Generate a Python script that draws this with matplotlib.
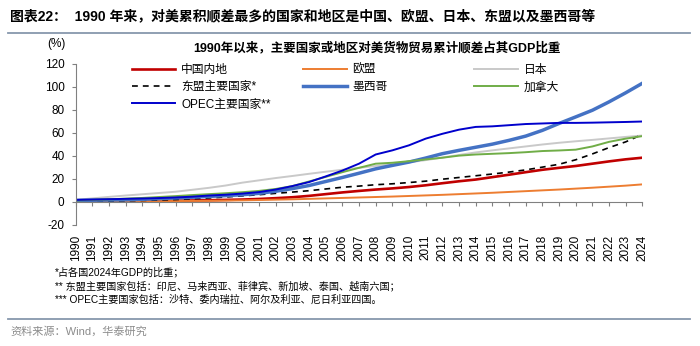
import numpy as np
import matplotlib
matplotlib.use("Agg")
import matplotlib.pyplot as plt

plt.rcParams['font.family'] = ['Liberation Sans', 'Noto Sans CJK SC']
plt.rcParams['axes.unicode_minus'] = False

years = list(range(1990, 2025))

china = [0, 0.1, 0.2, 0.4, 0.5, 0.6, 0.8, 1.0, 1.2, 1.5, 1.8, 2.3, 3.0, 3.8, 5.0, 6.5, 8.0,
         9.3, 10.5, 11.5, 12.7, 14.2, 16.0, 17.7, 19.2, 21.3, 23.4, 25.6, 27.7, 29.4, 31.0,
         33.0, 35.0, 36.8, 38.2]
eu = [0, 0.05, 0.1, 0.2, 0.3, 0.4, 0.5, 0.6, 0.7, 0.9, 1.1, 1.4, 1.7, 2.0, 2.4, 2.8, 3.2,
      3.6, 4.0, 4.4, 4.9, 5.4, 5.9, 6.5, 7.1, 7.7, 8.4, 9.1, 9.8, 10.5, 11.3, 12.1, 13.0,
      13.9, 15.0]
japan = [1.5, 2.8, 4.1, 5.3, 6.4, 7.5, 8.6, 10.3, 12.0, 14.0, 16.5, 18.5, 20.5, 22.3, 24.2,
         26.0, 27.7, 29.4, 31.0, 32.5, 34.2, 36.1, 38.3, 40.6, 42.8, 44.6, 46.3, 48.0, 49.7,
         51.2, 52.5, 53.7, 55.0, 56.3, 57.5]
asean = [0, 0.2, 0.4, 0.7, 1.0, 1.4, 1.8, 2.4, 3.2, 4.0, 5.0, 6.0, 7.2, 8.3, 9.5, 11.0,
         12.5, 13.5, 14.7, 15.5, 16.6, 17.8, 19.5, 21.0, 22.5, 24.0, 25.7, 27.6, 30.0, 32.5,
         36.4, 41.5, 47.0, 52.0, 58.5]
mexico = [1.0, 1.2, 1.4, 1.6, 2.0, 2.6, 3.2, 3.8, 4.5, 5.2, 6.0, 7.2, 9.0, 11.3, 14.0,
          17.5, 21.0, 24.7, 28.5, 31.5, 34.4, 37.9, 41.7, 44.6, 47.3, 50.0, 53.3, 57.0,
          62.0, 68.0, 73.7, 79.5, 86.8, 94.7, 103.0]
canada = [1.0, 1.5, 2.0, 2.6, 3.2, 4.0, 4.8, 5.7, 6.5, 7.3, 8.2, 9.3, 11.0, 13.5, 17.5,
          21.5, 25.6, 29.4, 33.0, 33.8, 35.2, 36.7, 38.2, 40.0, 41.0, 41.6, 42.2, 43.0,
          44.0, 44.5, 45.2, 48.0, 52.0, 54.8, 57.0]
opec = [1.5, 1.8, 2.1, 2.4, 2.7, 3.1, 3.6, 4.3, 5.3, 6.0, 7.0, 8.3, 10.5, 13.5, 17.0, 21.9,
        27.0, 33.0, 41.0, 44.6, 49.0, 54.8, 59.0, 62.6, 65.0, 65.5, 66.5, 67.5, 68.0, 68.5,
        68.5, 68.7, 69.0, 69.3, 69.7]

W, H = 700, 346
def fx(x):
    return x / W
def fy(y):
    return 1 - y / H

fig = plt.figure(figsize=(7, 3.46), dpi=100)
fig.patch.set_facecolor('white')

ax = fig.add_axes([fx(75.6), fy(224.6), (642.4 - 75.6) / W, (224.6 - 63.7) / H])

series = [
    ("中国内地", china, dict(color='#C00000', lw=1.9)),
    ("欧盟", eu, dict(color='#ED7D31', lw=1.4)),
    ("日本", japan, dict(color='#C9C9C9', lw=1.4)),
    ("东盟主要国家*", asean, dict(color='black', lw=1.2, ls=(0, (3.5, 3)))),
    ("墨西哥", mexico, dict(color='#4472C4', lw=2.5)),
    ("加拿大", canada, dict(color='#70AD47', lw=1.4)),
    ("OPEC主要国家**", opec, dict(color='#0000CC', lw=1.4)),
]
lines = []
for name, vals, st in series:
    l, = ax.plot(years, vals, label=name, **st)
    lines.append(l)

for s in ['top', 'right']:
    ax.spines[s].set_visible(False)
# x axis crosses at 0, labels stay at the bottom
ax.spines['bottom'].set_position(('data', 0))
ax.spines['bottom'].set_color('#808080')
ax.spines['left'].set_color('#808080')

ax.set_xlim(1990, 2024)
ax.set_ylim(-20, 120)
ax.set_yticks(range(-20, 121, 20))
ax.set_xticks(years)
ax.set_xticklabels([str(y) for y in years])
ax.tick_params(axis='x', direction='out', length=3, color='#808080', pad=21,
               labelrotation=90, labelsize=8.5)
ax.tick_params(axis='y', direction='out', length=3, color='#808080', pad=5, labelsize=8.5)

# legend: three columns placed separately
cols_x = [131.7, 303, 474]
cols = [[0, 3, 6], [1, 4], [2, 5]]
for cx, idx in zip(cols_x, cols):
    leg = fig.legend([lines[i] for i in idx], [series[i][0] for i in idx],
                     loc='upper left', bbox_to_anchor=(fx(cx), fy(64)),
                     frameon=False, fontsize=8.5, handlelength=3.7, handletextpad=0.5,
                     borderpad=0, borderaxespad=0, labelspacing=0.45)

fig.text(fx(10), fy(16), "图表22：  1990 年来，对美累积顺差最多的国家和地区是中国、欧盟、日本、东盟以及墨西哥等",
         fontsize=10, fontweight='bold', va='center', ha='left')
fig.add_artist(plt.Line2D([fx(8), fx(690)], [fy(33), fy(33)], color='#8797AD', lw=1.3))

fig.text(fx(56), fy(44), "(%)", fontsize=8.5, ha='center', va='center')
fig.text(fx(377), fy(48), "1990年以来，主要国家或地区对美货物贸易累计顺差占其GDP比重",
         fontsize=9, fontweight='bold', ha='center', va='center')

notes = ["*占各国2024年GDP的比重；",
         "** 东盟主要国家包括：印尼、马来西亚、菲律宾、新加坡、泰国、越南六国；",
         "*** OPEC主要国家包括：沙特、委内瑞拉、阿尔及利亚、尼日利亚四国。"]
for i, t in enumerate(notes):
    fig.text(fx(55), fy(272 + 14 * i), t, fontsize=7.3, ha='left', va='center')

fig.add_artist(plt.Line2D([fx(8), fx(690)], [fy(319), fy(319)], color='#8797AD', lw=1.3))
fig.text(fx(10), fy(331), "资料来源：Wind，华泰研究", fontsize=8, color='#8C8C8C',
         ha='left', va='center')

fig.savefig('out.png', dpi=100)
